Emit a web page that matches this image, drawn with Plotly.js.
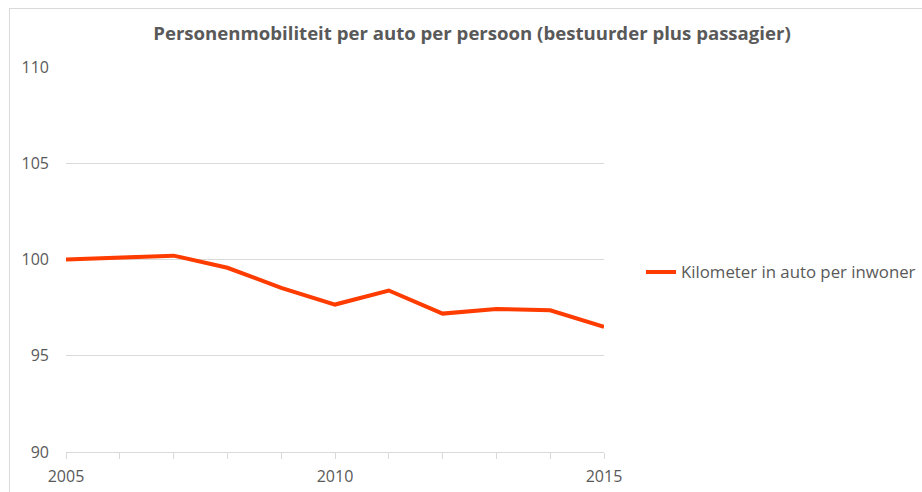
<!DOCTYPE html>
<html>
<head>
<meta charset="utf-8">
<script src="https://cdn.plot.ly/plotly-3.0.1.min.js"></script>
<style>
html,body{margin:0;padding:0;background:#fff;}
#chart{position:absolute;left:0;top:0;width:922px;height:492px;}
#frame{position:absolute;left:9px;top:8px;width:940px;height:500px;border-left:1px solid #d9d9d9;border-top:1px solid #d9d9d9;pointer-events:none;}
</style>
</head>
<body>
<div id="chart"></div>
<div id="frame"></div>
<script>
const years = [2005, 2006, 2007, 2008, 2009, 2010, 2011, 2012, 2013, 2014, 2015];
const kmPerInwoner = [100.0, 100.1, 100.2, 99.57, 98.53, 97.66, 98.39, 97.19, 97.43, 97.36, 96.5];
const seriesName = 'Kilometer in auto per inwoner';
const xTickVals = [2005, 2006, 2007, 2008, 2009, 2010, 2011, 2012, 2013, 2014, 2015];
const xTickText = ['2005', '', '', '', '', '2010', '', '', '', '', '2015'];
const yTickVals = [90, 95, 100, 105, 110];
const titleText = 'Personenmobiliteit per auto per persoon (bestuurder plus passagier)';

const font = 'Open Sans, Liberation Sans, sans-serif';
const trace = {
  x: years, y: kmPerInwoner, name: seriesName, type: 'scatter', mode: 'lines',
  line: {color: '#ff3c00', width: 4}, showlegend: true
};
const layout = {
  width: 922, height: 492,
  margin: {l: 66, r: 318, t: 67, b: 40, autoexpand: false},
  paper_bgcolor: '#fff', plot_bgcolor: '#fff',
  title: {text: '<b>' + titleText + '</b>', x: 472/922, xanchor: 'center', y: 1 - 33/492, yanchor: 'middle',
    font: {family: font, size: 18.6, color: '#595959'}},
  xaxis: {range: [2005, 2015], tickvals: xTickVals, ticktext: xTickText, ticks: 'outside', ticklen: 6,
    tickcolor: '#d9d9d9', showline: true, linecolor: '#d9d9d9', linewidth: 1, showgrid: false, zeroline: false,
    ticklabelstandoff: 4,
    tickfont: {family: font, size: 16, color: '#595959'}, fixedrange: true},
  yaxis: {range: [90, 110], tickvals: yTickVals, showgrid: true, gridcolor: '#d9d9d9', gridwidth: 1,
    zeroline: false, showline: false, ticks: '', ticklabelstandoff: 16,
    tickfont: {family: font, size: 16, color: '#595959'}, fixedrange: true},
  legend: {x: (641-66)/538, xanchor: 'left', y: (452-272)/385, yanchor: 'middle', bgcolor: 'rgba(0,0,0,0)',
    font: {family: font, size: 16.8, color: '#595959'}, itemwidth: 30},
  showlegend: true
};
Plotly.newPlot('chart', [trace], layout, {displayModeBar: false, staticPlot: true});
</script>
</body>
</html>
